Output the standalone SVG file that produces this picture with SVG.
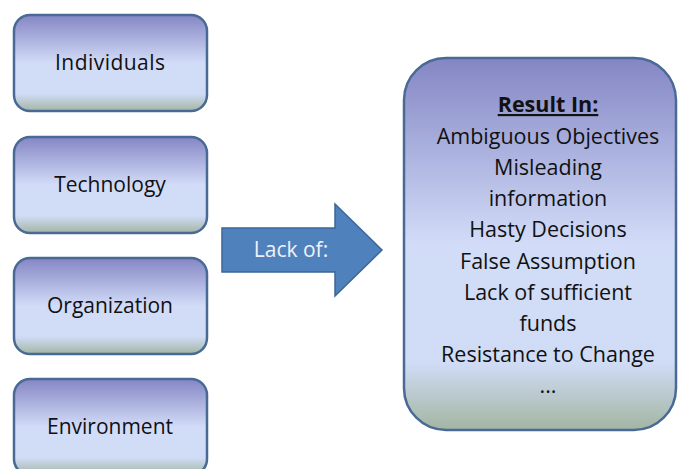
<svg xmlns="http://www.w3.org/2000/svg" width="678" height="469" viewBox="0 0 678 469">
<defs>
<linearGradient id="g" x1="0" y1="0" x2="0" y2="1">
<stop offset="0" stop-color="#8486c4"/>
<stop offset="0.5" stop-color="#d2dcf8"/>
<stop offset="0.82" stop-color="#d0dcf6"/>
<stop offset="1" stop-color="#a3b5a2"/>
</linearGradient>
<style>
.box{fill:url(#g);stroke:#4a6a96;stroke-width:2.5}
.t{font-family:"Open Sans","Liberation Sans",sans-serif;font-size:21px;fill:#111;text-anchor:middle}
.r{font-family:"Open Sans","Liberation Sans",sans-serif;font-size:21.5px;fill:#111;text-anchor:middle}
</style>
</defs>
<rect width="678" height="469" fill="#fff"/>
<g id="individuals"><rect class="box" x="14" y="15" width="193" height="96" rx="16"/><text class="t" x="110" y="70" textLength="110">Individuals</text></g>
<g id="technology"><rect class="box" x="14" y="137" width="193" height="96" rx="16"/><text class="t" x="110" y="192">Technology</text></g>
<g id="organization"><rect class="box" x="14" y="258" width="193" height="96" rx="16"/><text class="t" x="110" y="313">Organization</text></g>
<g id="environment"><rect class="box" x="14" y="379" width="193" height="96" rx="16"/><text class="t" x="110" y="434">Environment</text></g>
<g id="connectors">
<path d="M222,228 H335 V204 L382,250 L335,296 V272 H222 Z" fill="#4f81bd" stroke="#3b6796" stroke-width="1.5"/>
<text x="291" y="257" font-family="'Open Sans','Liberation Sans',sans-serif" font-size="21" fill="#eef2fa" text-anchor="middle">Lack of:</text>
</g>
<g id="result">
<rect class="box" x="404" y="58" width="272" height="372" rx="42"/>
<text class="r" x="548" y="112" font-weight="bold" text-decoration="underline">Result  In:</text>
<text class="r" x="548" y="144">Ambiguous Objectives</text>
<text class="r" x="548" y="175">Misleading</text>
<text class="r" x="548" y="206">information</text>
<text class="r" x="548" y="237">Hasty Decisions</text>
<text class="r" x="548" y="269">False Assumption</text>
<text class="r" x="548" y="300">Lack of sufficient</text>
<text class="r" x="548" y="331">funds</text>
<text class="r" x="548" y="362">Resistance to Change</text>
<text class="r" x="548" y="393">...</text>
</g>
</svg>
